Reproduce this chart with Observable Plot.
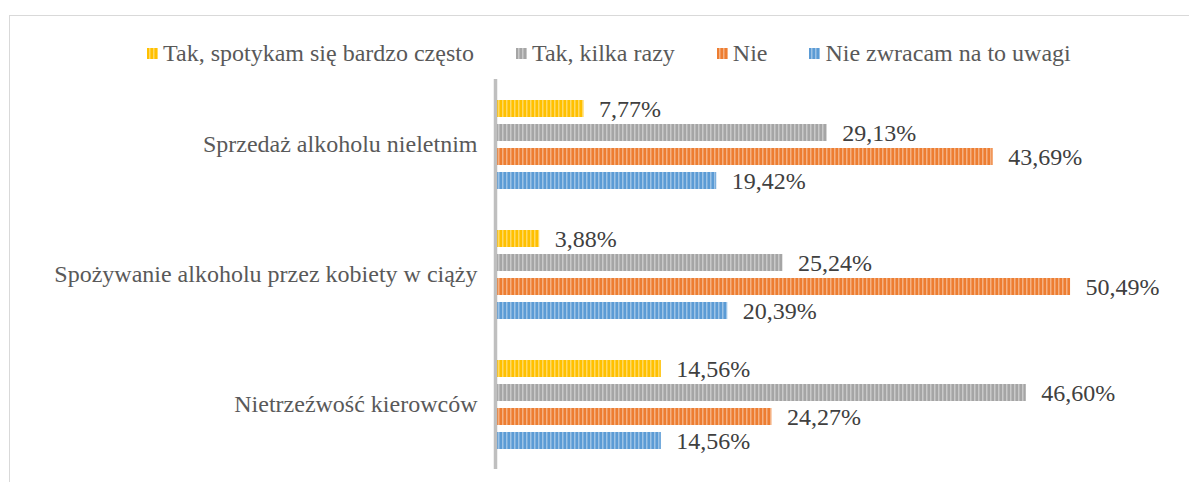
<!DOCTYPE html>
<html>
<head>
<meta charset="utf-8">
<script src="https://cdn.jsdelivr.net/npm/d3@7"></script>
<script src="https://cdn.jsdelivr.net/npm/@observablehq/plot@0.6"></script>
<style>
  body { margin: 0; background: #fff; }
  #wrap { position: relative; width: 1189px; height: 482px; overflow: hidden; font-family: "Liberation Serif", "Times New Roman", serif; }
  #frame { position: absolute; left: 9px; top: 15px; width: 1200px; height: 500px; border-top: 1.5px solid #d9d9d9; border-left: 1.5px solid #d9d9d9; }
  #legend { position: absolute; left: 147px; top: 39px; display: flex; gap: 42px; font-size: 24px; line-height: 28px; color: #595959; white-space: nowrap; }
  #legend .item { display: flex; align-items: center; gap: 5px; }
  #legend svg { display: block; }
  #chart { position: absolute; left: 0; top: 0; }
</style>
</head>
<body>
<svg width="0" height="0" style="position:absolute">
  <defs id="defs"></defs>
</svg>
<div id="wrap">
  <div id="frame"></div>
  <div id="chart"></div>
  <div id="legend"></div>
</div>
<script>
const categories = ["Sprzedaż alkoholu nieletnim", "Spożywanie alkoholu przez kobiety w ciąży", "Nietrzeźwość kierowców"];
const series = ["Tak, spotykam się bardzo często", "Tak, kilka razy", "Nie", "Nie zwracam na to uwagi"];
const colors = ["#ffc000", "#a5a5a5", "#ed7d31", "#5b9bd5"];
const sprzedaz = [7.77, 29.13, 43.69, 19.42];
const kobiety = [3.88, 25.24, 50.49, 20.39];
const kierowcy = [14.56, 46.60, 24.27, 14.56];
const valuesByCategory = [sprzedaz, kobiety, kierowcy];

// striped patterns
const defs = document.getElementById("defs");
defs.innerHTML = colors.map((c, i) =>
  `<pattern id="p${i}" patternUnits="userSpaceOnUse" width="4" height="4">
     <rect width="4" height="4" fill="${c}"/>
     <rect x="2" width="1.5" height="4" fill="#ffffff" fill-opacity="0.4"/>
   </pattern>`).join("");

const rows = categories.flatMap((c, ci) => series.map((s, si) => ({category: c, series: s, value: valuesByCategory[ci][si]})));
const fmt = v => v.toFixed(2).replace(".", ",") + "%";

const chart = Plot.plot({
  width: 1189,
  height: 482,
  marginTop: 78,
  marginBottom: 13,
  marginLeft: 495,
  marginRight: 10.6,
  style: {fontFamily: "'Liberation Serif', 'Times New Roman', serif", fontSize: "24px", color: "#595959", background: "transparent"},
  x: {domain: [0, 60], axis: null},
  y: {domain: series, axis: null, paddingInner: 0.3, paddingOuter: 0.757},
  fy: {domain: categories, padding: 0, axis: "left", tickSize: 0, tickPadding: 18, label: null},
  color: {domain: series, range: series.map((s, i) => `url(#p${i})`)},
  marks: [
    Plot.barX(rows, {x: "value", y: "series", fy: "category", fill: "series"}),
    Plot.ruleX([0], {stroke: "#bfbfbf", strokeWidth: 3.5}),
    Plot.text(rows, {x: "value", y: "series", fy: "category", text: d => fmt(d.value), textAnchor: "start", dx: 15, fill: "#404040", fontSize: 24})
  ]
});
document.getElementById("chart").appendChild(chart);

const legend = document.getElementById("legend");
series.forEach((s, i) => {
  const item = document.createElement("div");
  item.className = "item";
  item.innerHTML = `<svg width="11" height="11"><rect width="11" height="11" fill="url(#p${i})"/></svg><span>${s}</span>`;
  legend.appendChild(item);
});
</script>
</body>
</html>
